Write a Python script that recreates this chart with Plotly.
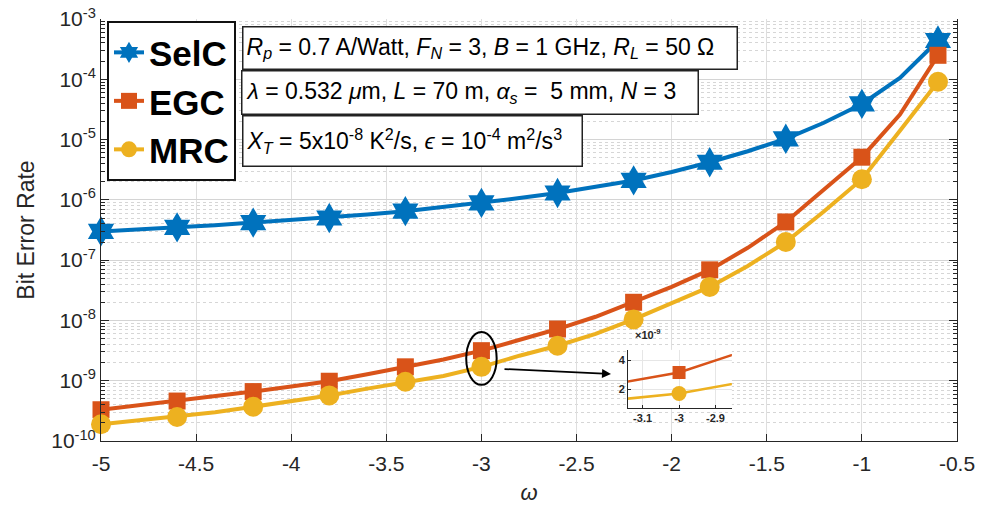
import plotly.graph_objects as go

# omega samples (curves) and BER of the three combining schemes
omega = [-5.0, -4.8, -4.6, -4.4, -4.2, -4.0, -3.8, -3.6, -3.4, -3.2, -3.0, -2.8,
         -2.6, -2.4, -2.2, -2.0, -1.8, -1.6, -1.4, -1.2, -1.0, -0.8, -0.6]

ber_selc = [3.0e-7, 3.2e-7, 3.5e-7, 3.8e-7, 4.2e-7, 4.6e-7, 5.0e-7, 5.7e-7, 6.5e-7,
            7.6e-7, 8.9e-7, 1.07e-6, 1.3e-6, 1.65e-6, 2.1e-6, 2.9e-6, 4.2e-6, 6.4e-6,
            1.03e-5, 1.9e-5, 3.9e-5, 1.05e-4, 4.4e-4]

ber_egc = [3.3e-10, 3.9e-10, 4.6e-10, 5.5e-10, 6.6e-10, 8.0e-10, 9.8e-10, 1.28e-9,
           1.7e-9, 2.25e-9, 3.15e-9, 4.8e-9, 7.2e-9, 1.15e-8, 2.0e-8, 3.6e-8, 6.9e-8,
           1.6e-7, 4.3e-7, 1.5e-6, 5.1e-6, 2.6e-5, 2.5e-4]

ber_mrc = [1.9e-10, 2.2e-10, 2.5e-10, 3.0e-10, 3.7e-10, 4.6e-10, 5.7e-10, 7.4e-10,
           9.6e-10, 1.2e-9, 1.7e-9, 2.6e-9, 3.8e-9, 6.0e-9, 1.04e-8, 1.9e-8, 3.6e-8,
           8.0e-8, 2.0e-7, 6.4e-7, 2.2e-6, 1.4e-5, 9.1e-5]

names = ["SelC", "EGC", "MRC"]
colors = ["#0072BD", "#D95319", "#EDB120"]
symbols = ["hexagram", "square", "circle"]
msizes = [23, 17, 20]
inset_msizes = [12, 13, 15]

x_ticks = [-5, -4.5, -4, -3.5, -3, -2.5, -2, -1.5, -1, -0.5]
x_ticktext = ["-5", "-4.5", "-4", "-3.5", "-3", "-2.5", "-2", "-1.5", "-1", "-0.5"]
y_exps = [-10, -9, -8, -7, -6, -5, -4, -3]

FONT = "Liberation Sans"

fig = go.Figure()

series = [ber_selc, ber_egc, ber_mrc]
for name, ys, col, sym, ms, ims in zip(names, series, colors, symbols, msizes, inset_msizes):
    # curve through all samples
    fig.add_trace(go.Scatter(x=omega, y=ys, mode="lines", line=dict(color=col, width=4),
                             showlegend=False, hoverinfo="skip"))
    # markers on every other sample
    fig.add_trace(go.Scatter(x=omega[::2], y=ys[::2], mode="markers",
                             marker=dict(symbol=sym, size=ms, color=col, line=dict(width=0)),
                             showlegend=False, cliponaxis=False))
    # legend entry
    fig.add_trace(go.Scatter(x=[None], y=[None], mode="lines+markers", name=name,
                             line=dict(color=col, width=4),
                             marker=dict(symbol=sym, size=ms, color=col)))
    # zoomed inset (EGC / MRC only)
    if name != "SelC":
        fig.add_trace(go.Scatter(x=omega, y=ys, mode="lines", xaxis="x2", yaxis="y2",
                                 line=dict(color=col, width=2.5), showlegend=False))
        fig.add_trace(go.Scatter(x=omega[::2], y=ys[::2], mode="markers", xaxis="x2", yaxis="y2",
                                 marker=dict(symbol=sym, size=ims, color=col, line=dict(width=0)),
                                 cliponaxis=True, showlegend=False))

minor_vals = [m * 10 ** e for e in range(-10, -3) for m in range(2, 10)]

fig.update_layout(
    width=989, height=505,
    margin=dict(l=101, r=32, t=19, b=64),
    paper_bgcolor="white", plot_bgcolor="white",
    font=dict(family=FONT, color="#262626"),
    showlegend=True,
    legend=dict(x=0.007, y=0.995, xanchor="left", yanchor="top",
                bgcolor="white", bordercolor="#111111", borderwidth=2,
                font=dict(family=FONT, size=35, color="black", weight="bold"),
                itemsizing="trace", tracegroupgap=0, itemwidth=30),
    xaxis=dict(range=[-5, -0.5], tickvals=x_ticks, ticktext=x_ticktext,
               ticks="inside", ticklen=7, tickcolor="#262626",
               showline=True, linecolor="#262626", linewidth=1,
               showgrid=True, gridcolor="#dedede", gridwidth=1, zeroline=False,
               tickfont=dict(family=FONT, size=21, color="#262626"),
               ticklabelstandoff=4, automargin=False,
               title=dict(text="<i>ω</i>", font=dict(family=FONT, size=22, color="#262626"),
                          standoff=16),
               domain=[0, 1]),
    yaxis=dict(type="log", range=[-10, -3],
               tickvals=[10.0 ** e for e in y_exps],
               ticktext=["10<sup>%d</sup>" % e for e in y_exps],
               ticks="inside", ticklen=8, tickcolor="#262626",
               showline=True, linecolor="#262626", linewidth=1, mirror="ticks",
               showgrid=True, gridcolor="#d4d4d4", gridwidth=1.2, zeroline=False,
               tickfont=dict(family=FONT, size=21, color="#262626"),
               minor=dict(tickvals=minor_vals, ticks="inside", ticklen=4, tickcolor="#262626",
                          showgrid=True, gridcolor="#d6d6d6", griddash="dot", gridwidth=1),
               title=dict(text="Bit Error Rate", font=dict(family=FONT, size=23, color="#262626"),
                          standoff=10),
               automargin=False,
               domain=[0, 1]),
    xaxis2=dict(domain=[0.6157, 0.737], anchor="y2", range=[-3.14, -2.855],
                tickvals=[-3.1, -3.0, -2.9], ticktext=["-3.1", "-3", "-2.9"],
                ticks="inside", ticklen=3, tickcolor="#262626",
                showline=True, linecolor="#262626", linewidth=1,
                showgrid=True, gridcolor="#e6e6e6", zeroline=False,
                tickfont=dict(family=FONT, size=11, color="#262626", weight="bold")),
    yaxis2=dict(domain=[0.078, 0.216], anchor="x2", range=[0.7e-9, 4.7e-9],
                tickvals=[2e-9, 4e-9], ticktext=["2", "4"],
                ticks="inside", ticklen=3, tickcolor="#262626",
                showline=True, linecolor="#262626", linewidth=1,
                showgrid=True, gridcolor="#e6e6e6", zeroline=False,
                tickfont=dict(family=FONT, size=11, color="#262626", weight="bold")),
)

# parameter boxes
boxes = [
    ("<i>R</i><sub><i>p</i></sub> = 0.7 A/Watt, <i>F</i><sub><i>N</i></sub> = 3, "
     "<i>B</i> = 1 GHz, <i>R</i><sub><i>L</i></sub> = 50 Ω", 0.1647, 0.983, 487, 35),
    ("<i>λ</i> = 0.532 <i>μ</i>m, <i>L</i> = 70 m, <i>α</i><sub><i>s</i></sub> =  5 mm, "
     "<i>N</i> = 3", 0.1635, 0.879, 449, 36),
    ("<i>X</i><sub><i>T</i></sub> = 5x10<sup>-8</sup> K<sup>2</sup>/s, <i>ϵ</i> = "
     "10<sup>-4</sup> m<sup>2</sup>/s<sup>3</sup>", 0.1647, 0.773, 332, 43),
]
for txt, bx, by, bw, bh in boxes:
    fig.add_annotation(text=txt, xref="paper", yref="paper", x=bx, y=by,
                       xanchor="left", yanchor="top", showarrow=False,
                       width=bw, height=bh, align="left", valign="middle",
                       bgcolor="white", bordercolor="#222222", borderwidth=1.5, borderpad=3,
                       font=dict(family=FONT, size=23, color="black"))

# ellipse highlighting omega = -3 and arrow to the inset
fig.add_shape(type="circle", xref="x", yref="paper", x0=-3.08, x1=-2.92, y0=0.133, y1=0.258,
              line=dict(color="black", width=2))
fig.add_annotation(xref="paper", yref="paper", x=0.5958, y=0.1588, ax=-108, ay=-5,
                   text="", showarrow=True, arrowhead=2, arrowsize=1, arrowwidth=1.8,
                   arrowcolor="black")
fig.add_annotation(xref="paper", yref="paper", x=0.622, y=0.232, xanchor="left", yanchor="bottom",
                   text="×10<sup>-9</sup>", showarrow=False,
                   font=dict(family=FONT, size=11, color="#262626", weight="bold"))

fig.write_html("out.html")
